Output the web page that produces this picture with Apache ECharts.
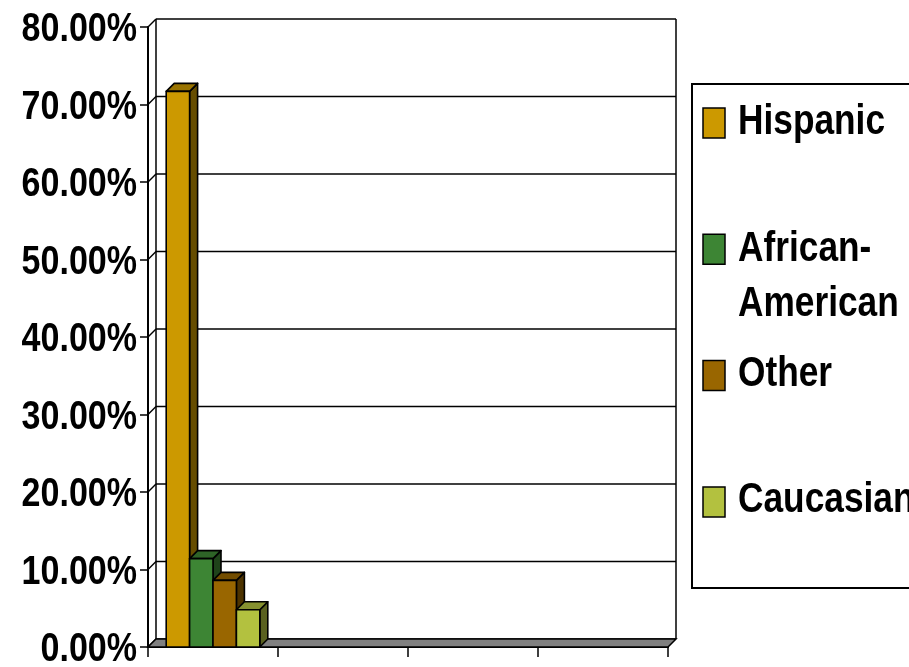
<!DOCTYPE html>
<html>
<head>
<meta charset="utf-8">
<script src="https://cdn.jsdelivr.net/npm/echarts@6/dist/echarts.min.js"></script>
<style>
  html, body { margin: 0; padding: 0; background: #fff; }
  #chart { width: 909px; height: 667px; }
</style>
</head>
<body>
<div id="chart"></div>
<script>
// category slots on the x axis (no labels shown in the original)
const categories = ['', '', '', '']
// y axis ticks, in percent
const yTicks = [0, 10, 20, 30, 40, 50, 60, 70, 80]
// series, values in percent (only the first slot holds data)
const seriesNames = ['Hispanic', 'African-American', 'Other', 'Caucasian']
const hispanic = [71.7, null, null, null]
const africanAmerican = [11.4, null, null, null]
const other = [8.6, null, null, null]
const caucasian = [4.8, null, null, null]
const seriesValues = [hispanic, africanAmerican, other, caucasian]
const seriesColors = ['#CC9900', '#3D8534', '#996600', '#B3C13F']

const D = 8 // 3d depth offset
const FONT = '"Liberation Sans", Arial, sans-serif'
const NARROW = 0.84 // squeeze text like Arial Narrow

// darken a hex colour by factor
const shade = (hex, f) => {
  let n = parseInt(hex.slice(1), 16)
  let r = Math.round(((n >> 16) & 255) * f)
  let g = Math.round(((n >> 8) & 255) * f)
  let b = Math.round((n & 255) * f)
  return `rgb(${r},${g},${b})`
}

const chart = echarts.init(document.getElementById('chart'), null, { renderer: 'canvas' })

// back wall grid lines and left wall slants
const frameSeries = {
  type: 'custom',
  name: 'frame',
  z: 1,
  silent: true,
  data: yTicks.map(v => [0, v]),
  renderItem (params, api) {
    let cs = params.coordSys
    let y = api.coord([0, api.value(1)])[1]
    let x0 = cs.x
    let x1 = cs.x + cs.width
    let style = { stroke: '#000', lineWidth: 1.5 }
    return {
      type: 'group',
      children: [
        { type: 'line', shape: { x1: x0 + D, y1: y - D, x2: x1 + D, y2: y - D }, style },
        { type: 'line', shape: { x1: x0, y1: y, x2: x0 + D, y2: y - D }, style }
      ]
    }
  }
}

// y axis labels, narrowed
const yLabelSeries = {
  type: 'custom',
  name: 'ylabels',
  z: 4,
  silent: true,
  data: yTicks.map(v => [0, v]),
  renderItem (params, api) {
    let cs = params.coordSys
    let v = api.value(1)
    let y = api.coord([0, v])[1]
    return {
      type: 'text',
      x: cs.x - 11,
      y: y + 3,
      scaleX: 0.83,
      style: {
        text: v.toFixed(2) + '%',
        fill: '#000',
        fontSize: 41,
        fontWeight: 'bold',
        fontFamily: FONT,
        align: 'right',
        verticalAlign: 'middle'
      }
    }
  }
}

// floor and wall edges
const floorSeries = {
  type: 'custom',
  name: 'floor',
  z: 2,
  silent: true,
  data: [[0, 0]],
  renderItem (params, api) {
    let cs = params.coordSys
    let x0 = cs.x
    let x1 = cs.x + cs.width
    let yt = cs.y
    let yb = api.coord([0, 0])[1]
    let style = { stroke: '#000', lineWidth: 1.5 }
    return {
      type: 'group',
      children: [
        { type: 'line', shape: { x1: x0 + D, y1: yt - D, x2: x0 + D, y2: yb - D }, style },
        { type: 'line', shape: { x1: x1 + D, y1: yt - D, x2: x1 + D, y2: yb - D }, style },
        {
          type: 'polygon',
          shape: { points: [[x0, yb], [x1, yb], [x1 + D, yb - D], [x0 + D, yb - D]] },
          style: { fill: '#808080', stroke: '#000', lineWidth: 1.5 }
        }
      ]
    }
  }
}

// 3d columns
const barSeries = seriesNames.map((name, i) => ({
  type: 'custom',
  name,
  z: 3,
  itemStyle: { color: seriesColors[i] },
  data: seriesValues[i].map((v, k) => [k, v]).filter(d => d[1] != null),
  renderItem (params, api) {
    let cat = api.value(0)
    let val = api.value(1)
    let band = api.size([1, 0])[0]
    let barW = band * 0.18
    let center = api.coord([cat, 0])
    let x = center[0] - 2 * barW + i * barW
    let yb = center[1]
    let yt = api.coord([cat, val])[1]
    let col = seriesColors[i]
    let edge = { stroke: '#000', lineWidth: 1.6, lineJoin: 'round' }
    return {
      type: 'group',
      children: [
        {
          type: 'polygon',
          shape: { points: [[x + barW, yt], [x + barW + D, yt - D], [x + barW + D, yb - D], [x + barW, yb]] },
          style: { fill: shade(col, 0.5), ...edge }
        },
        {
          type: 'polygon',
          shape: { points: [[x, yt], [x + D, yt - D], [x + barW + D, yt - D], [x + barW, yt]] },
          style: { fill: shade(col, 0.75), ...edge }
        },
        {
          type: 'rect',
          shape: { x, y: yt, width: barW, height: yb - yt },
          style: { fill: col, ...edge }
        }
      ]
    }
  }
}))

// legend box, swatches and narrowed labels
const legendItems = seriesNames.map((name, i) => {
  let cy = 123 + i * 126.3
  return {
    type: 'group',
    silent: true,
    children: [
      {
        type: 'rect',
        shape: { x: 703, y: cy - 15, width: 22, height: 30 },
        style: { fill: seriesColors[i], stroke: '#000', lineWidth: 1.5 }
      },
      {
        type: 'text',
        x: 738,
        y: name === 'African-American' ? cy + 27.5 : cy - 1,
        scaleX: NARROW,
        style: {
          text: name === 'African-American' ? 'African-\nAmerican' : name,
          fill: '#000',
          fontSize: 42,
          fontWeight: 'bold',
          fontFamily: FONT,
          lineHeight: 55,
          align: 'left',
          verticalAlign: 'middle'
        }
      }
    ]
  }
})

chart.setOption({
  animation: false,
  backgroundColor: '#fff',
  textStyle: { fontFamily: FONT },
  grid: { left: 148, top: 27, width: 520, height: 620 },
  xAxis: {
    type: 'category',
    data: categories,
    boundaryGap: true,
    axisLine: { lineStyle: { color: '#000', width: 2 } },
    axisTick: { show: true, length: 10, alignWithLabel: false, interval: 0, lineStyle: { color: '#000', width: 1.5 } },
    axisLabel: { show: false },
    splitLine: { show: false }
  },
  yAxis: {
    type: 'value',
    min: 0,
    max: 80,
    interval: 10,
    axisLine: { show: true, lineStyle: { color: '#000', width: 2 } },
    axisTick: { show: true, length: 8, lineStyle: { color: '#000', width: 1.5 } },
    axisLabel: { show: false },
    splitLine: { show: false }
  },
  graphic: [
    {
      type: 'rect',
      silent: true,
      shape: { x: 692, y: 84, width: 240, height: 504 },
      style: { fill: 'none', stroke: '#000', lineWidth: 2 }
    },
    ...legendItems
  ],
  series: [frameSeries, floorSeries, ...barSeries, yLabelSeries]
})
</script>
</body>
</html>
